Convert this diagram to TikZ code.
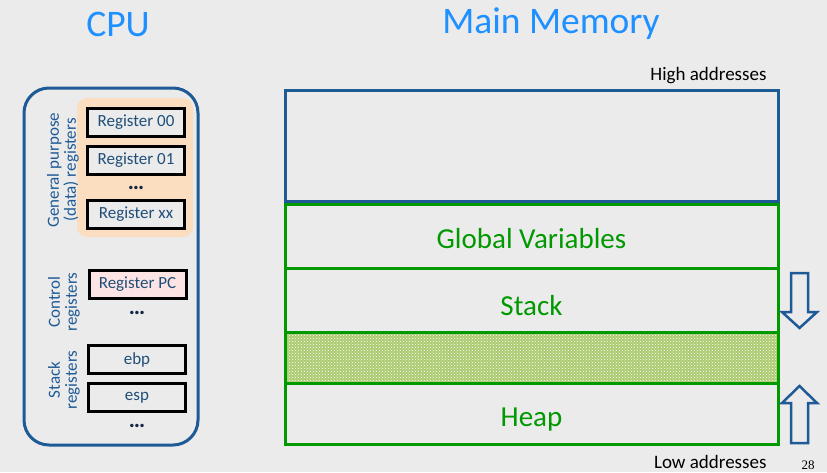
\documentclass[tikz,border=0pt]{standalone}
\usepackage{fontspec}
\setmainfont{Carlito}
\newfontfamily\slidenum{Liberation Serif}
\usetikzlibrary{positioning, patterns}
\definecolor{bggray}{RGB}{235,235,235}
\definecolor{titleblue}{RGB}{30,144,255}
\definecolor{cpublue}{RGB}{30,90,150}
\definecolor{regtext}{RGB}{31,78,121}
\definecolor{peach}{RGB}{251,221,192}
\definecolor{pcpink}{RGB}{252,228,228}
\definecolor{memgreen}{RGB}{0,153,0}
\definecolor{hatchgreen}{RGB}{172,202,112}
\definecolor{navy}{RGB}{20,40,70}

\begin{document}
\begin{tikzpicture}[x=1pt, y=-1pt,
    heading/.style={text=titleblue, font=\fontsize{37.5}{37.5}\selectfont},
    reg/.style={rectangle, draw=black, line width=3pt, fill=bggray, inner sep=0pt,
                minimum width=97pt, minimum height=28pt, text=regtext,
                font=\fontsize{17}{17}\selectfont},
    grp/.style={rotate=90, align=center, text=cpublue, font=\fontsize{17}{17}\selectfont},
    regdots/.style={anchor=base, text=navy, font=\fontsize{23}{23}\selectfont\bfseries},
    mem/.style={rectangle, draw=memgreen, line width=3pt, inner sep=0pt, minimum width=493pt},
    memtxt/.style={text=memgreen, font=\fontsize{29}{29}\selectfont, text height=19pt, text depth=0pt},
    addr/.style={anchor=base east, font=\fontsize{19}{19}\selectfont},
    dirarrow/.style={draw=cpublue, line width=2.5pt, line join=miter}]

    % ---------------- pozadina ----------------
    \fill [bggray] (0,0) rectangle (827,472);
    \useasboundingbox (0,0) rectangle (827,472);

    % ---------------- naslovi ----------------
    \node (cputitle) [heading] at (118,24) {CPU};
    \node (memtitle) [heading] at (551,24) {Main Memory};

    % ---------------- CPU ----------------
    \node (cpu)  [draw=cpublue, line width=3pt, rounded corners=25pt,
                  minimum width=174pt, minimum height=357pt] at (111,266.5) {};
    \node (gpbg) [fill=peach, rounded corners=10pt, minimum width=116pt, minimum height=139pt] at (135,167.5) {};

    \node (reg00) [reg] at (136,122)   {Register 00};
    \node (reg01) [reg] at (136,160.5) {Register 01};
    \node (gpdots) [regdots] at (136,189) {\ldots};
    \node (regxx) [reg] at (136,214)   {Register xx};

    \node (regpc) [reg, fill=pcpink] at (137.5,284) {Register PC};
    \node (pcdots) [regdots] at (137,314) {\ldots};

    \node (ebp) [reg] at (137,359.5) {ebp};
    \node (esp) [reg] at (137,397.5) {esp};
    \node (spdots) [regdots] at (137,427) {\ldots};

    \node (gplabel) [grp] at (63,170) {General purpose\\(data) registers};
    \node (pclabel) [grp] at (64,302) {Control\\registers};
    \node (splabel) [grp] at (64,380) {Stack\\registers};

    % ---------------- memorija ----------------
    \node (high)  [mem, draw=cpublue, minimum height=111pt] at (531.5,145.5) {};
    \node (gv)    [mem, minimum height=64pt] at (531.5,236) {};
    \node (stack) [mem, minimum height=64pt] at (531.5,300) {};
    \node (free)  [mem, minimum height=51pt, preaction={fill=hatchgreen},
                   pattern=crosshatch dots, pattern color=white] at (531.5,357.5) {};
    \node (heap)  [mem, minimum height=61pt] at (531.5,413.5) {};

    \node (gvtxt)    [memtxt] at ([yshift=-3pt]gv.center)      {Global Variables};
    \node (stacktxt) [memtxt] at ([yshift=-6pt]stack.center)   {Stack};
    \node (heaptxt)  [memtxt] at ([yshift=-3.5pt]heap.center)  {Heap};

    \node (hiaddr) [addr] at (770,80)  {High addresses};
    \node (loaddr) [addr] at (770,468) {Low addresses};
    \node (pagenum) [anchor=base, font=\slidenum\fontsize{13}{13}\selectfont] at (808,469) {28};

    % ---------------- smer rasta ----------------
    \draw [dirarrow] (791,273) -- (808,273) -- (808,312) -- (817,312) -- (799.5,328)
                     -- (782,312) -- (791,312) -- cycle;
    \draw [dirarrow] (791,443) -- (808,443) -- (808,403) -- (817,403) -- (799.5,386)
                     -- (782,403) -- (791,403) -- cycle;
\end{tikzpicture}
\end{document}
